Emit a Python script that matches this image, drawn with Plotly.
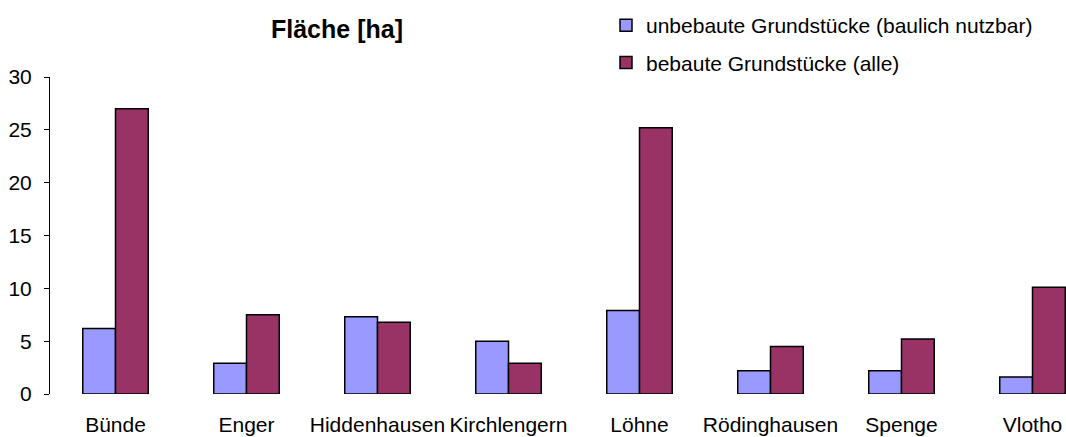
import plotly.graph_objects as go

categories = ["Bünde", "Enger", "Hiddenhausen", "Kirchlengern", "Löhne", "Rödinghausen", "Spenge", "Vlotho"]
unbebaut = [6.2, 2.9, 7.3, 5.0, 7.9, 2.2, 2.2, 1.6]
bebaut = [27.0, 7.5, 6.8, 2.9, 25.2, 4.5, 5.2, 10.1]
series_names = ["unbebaute Grundstücke (baulich nutzbar)", "bebaute Grundstücke (alle)"]
y_ticks = [0, 5, 10, 15, 20, 25, 30]

W, H = 1066, 437
fig = go.Figure()
fig.add_trace(go.Bar(x=categories, y=unbebaut, name=series_names[0], legendgroup="a",
                     marker=dict(color="#9999FF", line=dict(color="black", width=1.5))))
fig.add_trace(go.Bar(x=categories, y=bebaut, name=series_names[1], legendgroup="b",
                     marker=dict(color="#993366", line=dict(color="black", width=1.5))))

left = 50
top = 77
bottom_px = 394
plot_w = W - left
n_vis = plot_w / 131.0
fig.update_layout(
    width=W, height=H,
    margin=dict(l=left, r=0, t=top, b=H - bottom_px, autoexpand=False),
    paper_bgcolor="white", plot_bgcolor="white",
    font=dict(family="Liberation Sans, Arial, sans-serif", size=21, color="black"),
    barmode="group", bargap=0.5, bargroupgap=0,
    title=dict(text="<b>Fläche [ha]</b>", x=337 / W, xanchor="center", xref="container",
               y=1 - 29 / H, yref="container", yanchor="middle",
               font=dict(size=25, color="black")),
    xaxis=dict(range=[-0.5, -0.5 + n_vis], showline=False, ticks="", showgrid=False,
               tickfont=dict(size=21), ticklabelstandoff=16),
    yaxis=dict(range=[0, 30], tickvals=y_ticks, showline=True, linecolor="black", linewidth=1,
               ticks="outside", ticklen=5, tickcolor="black", showgrid=False, zeroline=False,
               tickfont=dict(size=21), ticklabelstandoff=8),
    legend=dict(x=(606 - left) / plot_w, xanchor="left", y=1 - 5 / H, yanchor="top",
                yref="container", font=dict(size=21), tracegroupgap=7,
                bgcolor="rgba(0,0,0,0)", itemwidth=30),
    showlegend=True,
)
fig.write_html("out.html", config={"displayModeBar": False},
               post_script="document.body.style.margin='0';document.body.style.overflow='hidden';")
